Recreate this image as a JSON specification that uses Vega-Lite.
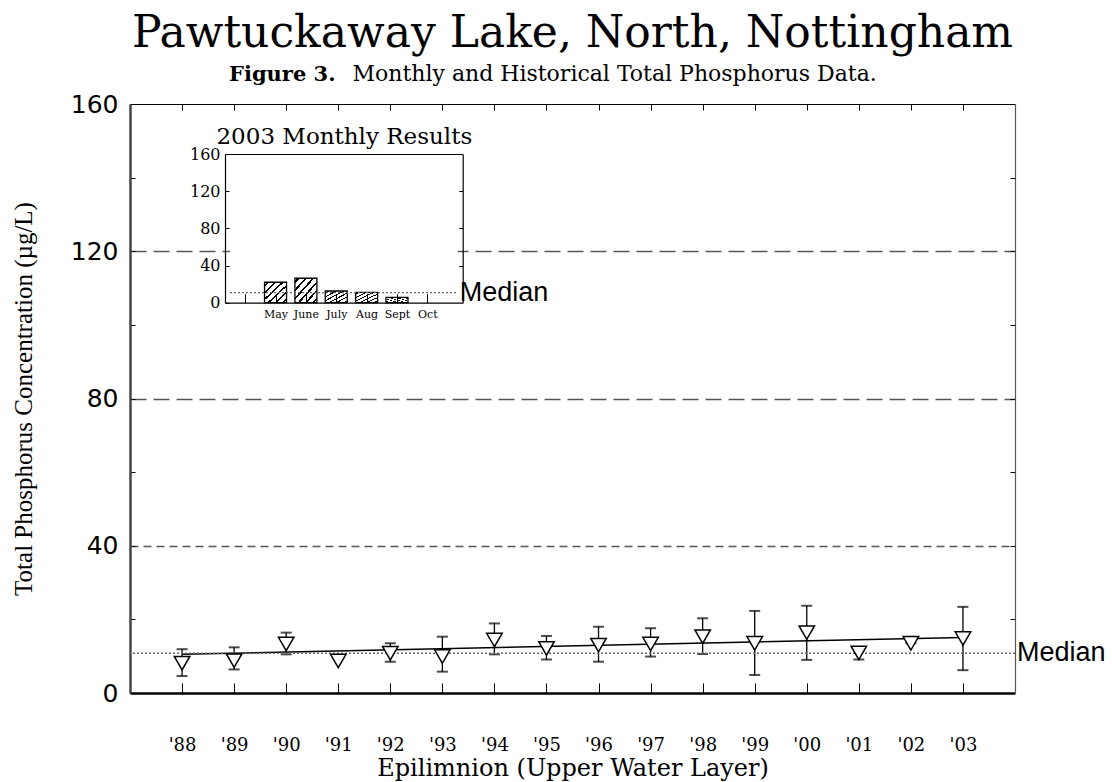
{
  "$schema": "https://vega.github.io/schema/vega-lite/v6.json",
  "width": 885,
  "height": 589,
  "autosize": {"type": "none"},
  "padding": {"left": 130, "top": 104, "right": 97, "bottom": 89},
  "background": "white",
  "config": {"view": {"stroke": null}, "font": "DejaVu Serif"},
  "title": {
    "text": "Pawtuckaway Lake, North, Nottingham",
    "anchor": "middle",
    "frame": "group",
    "font": "DejaVu Serif",
    "fontSize": 44,
    "fontWeight": "normal",
    "color": "black",
    "offset": 6
  },
  "datasets": {
    "annual": [
      {"year": 1988, "mean": 8.1, "lo": 4.6, "hi": 11.9},
      {"year": 1989, "mean": 8.8, "lo": 6.4, "hi": 12.4},
      {"year": 1990, "mean": 13.3, "lo": 10.5, "hi": 16.4},
      {"year": 1991, "mean": 8.7, "lo": null, "hi": null},
      {"year": 1992, "mean": 10.8, "lo": 8.5, "hi": 13.5},
      {"year": 1993, "mean": 9.9, "lo": 5.8, "hi": 15.3},
      {"year": 1994, "mean": 14.4, "lo": 10.5, "hi": 18.9},
      {"year": 1995, "mean": 12.1, "lo": 9.1, "hi": 15.5},
      {"year": 1996, "mean": 13.0, "lo": 8.5, "hi": 18.0},
      {"year": 1997, "mean": 13.3, "lo": 9.9, "hi": 17.6},
      {"year": 1998, "mean": 15.3, "lo": 10.6, "hi": 20.3},
      {"year": 1999, "mean": 13.5, "lo": 4.9, "hi": 22.3},
      {"year": 2000, "mean": 16.4, "lo": 9.0, "hi": 23.7},
      {"year": 2001, "mean": 10.9, "lo": 9.1, "hi": 12.4},
      {"year": 2002, "mean": 13.5, "lo": 13.5, "hi": 14.8},
      {"year": 2003, "mean": 14.8, "lo": 6.2, "hi": 23.4}
    ],
    "trend": [
      {"year": 1988, "trend": 10.5},
      {"year": 2003, "trend": 15.1}
    ],
    "median": [
      {"label": "Median", "value": 10.8}
    ],
    "monthly": [
      {"month": 5, "name": "May", "tp": 22},
      {"month": 6, "name": "June", "tp": 26.3},
      {"month": 7, "name": "July", "tp": 12.6},
      {"month": 8, "name": "Aug", "tp": 11.2},
      {"month": 9, "name": "Sept", "tp": 5.8},
      {"month": 10, "name": "Oct", "tp": null}
    ]
  },
  "layer": [
    {
      "layer": [
        {
          "data": {"name": "annual"},
          "mark": {"type": "errorbar", "ticks": {"size": 11, "thickness": 2, "color": "black"}, "rule": {"strokeWidth": 1.3, "color": "black"}},
          "encoding": {
            "x": {"field": "year", "type": "quantitative", "scale": {"domain": [1987, 2004]}, "axis": null},
            "y": {"field": "lo", "type": "quantitative", "scale": {"domain": [0, 160]}, "axis": null},
            "y2": {"field": "hi"}
          }
        },
        {
          "data": {"name": "trend"},
          "mark": {"type": "line", "color": "black", "strokeWidth": 1.5},
          "encoding": {
            "x": {"field": "year", "type": "quantitative", "scale": {"domain": [1987, 2004]},
              "axis": {"orient": "top", "values": [1988, 1989, 1990, 1991, 1992, 1993, 1994, 1995, 1996, 1997, 1998, 1999, 2000, 2001, 2002, 2003], "labels": false, "tickSize": -6, "tickColor": "black", "domainColor": "black", "domainWidth": 1.2, "grid": false,
                "title": "Figure 3.", "titleFont": "DejaVu Serif", "titleFontSize": 21, "titleFontWeight": "bold", "titleColor": "black",
                "titleAlign": "right", "titleBaseline": "alphabetic", "titleX": 205, "titleY": -24}},
            "y": {"field": "trend", "type": "quantitative", "scale": {"domain": [0, 160]},
              "axis": {"orient": "right", "values": [20, 40, 60, 80, 100, 120, 140], "labels": false, "tickSize": -5, "tickColor": "black", "domainColor": "#555", "domainWidth": 1.2, "title": null, "grid": false}}
          }
        },
        {
          "data": {"name": "median"},
          "mark": {"type": "rule", "color": "#666", "strokeWidth": 1.5, "strokeDash": [2, 2]},
          "encoding": {
            "y": {"field": "value", "type": "quantitative", "scale": {"domain": [0, 160]}, "axis": null}
          }
        },
        {
          "data": {"name": "annual"},
          "mark": {"type": "point", "shape": "triangle-down", "size": 240, "filled": true, "fill": "white", "stroke": "black", "strokeWidth": 1.5, "opacity": 1},
          "encoding": {
            "x": {"field": "year", "type": "quantitative", "scale": {"domain": [1987, 2004]},
              "axis": {"orient": "bottom", "values": [1988, 1989, 1990, 1991, 1992, 1993, 1994, 1995, 1996, 1997, 1998, 1999, 2000, 2001, 2002, 2003],
                "labelExpr": "\"'\" + substring(toString(datum.value), 2)",
                "tickSize": -10, "tickColor": "black", "domainColor": "black", "domainWidth": 2.5,
                "labelFont": "DejaVu Serif", "labelFontSize": 18, "labelColor": "black", "labelPadding": 53,
                "title": "Epilimnion (Upper Water Layer)", "titleFont": "DejaVu Serif", "titleFontSize": 24, "titleFontWeight": "normal", "titleColor": "black", "titlePadding": 2, "grid": false}},
            "y": {"field": "mean", "type": "quantitative", "scale": {"domain": [0, 160]},
              "axis": {"orient": "left", "values": [0, 20, 40, 60, 80, 100, 120, 140, 160],
                "labelExpr": "datum.value % 40 == 0 ? datum.label : ''",
                "tickSize": -5, "tickColor": "black", "domainColor": "#444", "domainWidth": 2.5,
                "labelFont": "DejaVu Sans", "labelFontSize": 25, "labelColor": "black", "labelPadding": 17,
                "grid": true, "gridColor": "#444", "gridWidth": 1.3,
                "gridDash": {"condition": {"test": "datum.value == 40", "value": [8, 5]}, "value": [16, 7]},
                "gridOpacity": {"condition": {"test": "datum.value == 40 || datum.value == 80 || datum.value == 120", "value": 0.9}, "value": 0},
                "title": "Total Phosphorus Concentration (µg/L)", "titleFont": "Liberation Serif", "titleFontSize": 25, "titleFontWeight": "normal", "titleColor": "black", "titlePadding": 34}}
          }
        },
        {
          "data": {"name": "median"},
          "mark": {"type": "text", "align": "left", "baseline": "middle", "dx": 2, "font": "Liberation Sans", "fontSize": 27, "color": "black"},
          "encoding": {
            "x": {"datum": 2004, "type": "quantitative", "scale": {"domain": [1987, 2004]},
              "axis": {"orient": "top", "domain": false, "ticks": false, "labels": false, "grid": false,
                "title": "Monthly and Historical Total Phosphorus Data.", "titleFont": "DejaVu Serif", "titleFontSize": 22, "titleFontWeight": "normal", "titleColor": "black",
                "titleAlign": "left", "titleBaseline": "alphabetic", "titleX": 222, "titleY": -24}},
            "y": {"field": "value", "type": "quantitative", "scale": {"domain": [0, 160]}, "axis": null},
            "text": {"field": "label"}
          }
        }
      ],
      "resolve": {"axis": {"x": "independent", "y": "independent"}}
    },
    {
      "layer": [
        {
          "data": {"values": [{}]},
          "mark": {"type": "rect", "fill": "white"},
          "encoding": {
            "x": {"datum": 3.5, "type": "quantitative", "scale": {"domain": [3.5, 11], "range": [95, 332.7]},
              "axis": {"orient": "bottom", "offset": -390.3, "values": [4, 5, 6, 7, 8, 9, 10],
                "labelExpr": "['','','','','','May','June','July','Aug','Sept','Oct'][datum.value]",
                "tickSize": -9, "tickColor": "black", "domainColor": "black", "domainWidth": 1.2,
                "labelFont": "DejaVu Serif", "labelFontSize": 11, "labelColor": "black", "labelPadding": 15,
                "title": null, "grid": false, "zindex": 2}},
            "x2": {"datum": 11},
            "y": {"datum": 0, "type": "quantitative", "scale": {"domain": [0, 160], "range": [198.7, 50]},
              "axis": {"orient": "left", "offset": -95, "values": [0, 40, 80, 120, 160],
                "tickSize": -4, "tickColor": "black", "domainColor": "black", "domainWidth": 1.2,
                "labelFont": "DejaVu Serif", "labelFontSize": 16, "labelColor": "black", "labelPadding": 9,
                "title": null, "grid": false, "zindex": 2}},
            "y2": {"datum": 160}
          }
        },
        {
          "data": {"name": "monthly"},
          "mark": {"type": "bar", "width": 22, "stroke": "black", "strokeWidth": 1.3,
            "fill": {"gradient": "linear", "x1": 0, "y1": 0, "x2": 1, "y2": 1, "stops": [
              {"offset": 0, "color": "white"}, {"offset": 0.058, "color": "white"},
              {"offset": 0.058, "color": "black"}, {"offset": 0.108, "color": "black"},
              {"offset": 0.108, "color": "white"}, {"offset": 0.225, "color": "white"},
              {"offset": 0.225, "color": "black"}, {"offset": 0.275, "color": "black"},
              {"offset": 0.275, "color": "white"}, {"offset": 0.392, "color": "white"},
              {"offset": 0.392, "color": "black"}, {"offset": 0.442, "color": "black"},
              {"offset": 0.442, "color": "white"}, {"offset": 0.558, "color": "white"},
              {"offset": 0.558, "color": "black"}, {"offset": 0.608, "color": "black"},
              {"offset": 0.608, "color": "white"}, {"offset": 0.725, "color": "white"},
              {"offset": 0.725, "color": "black"}, {"offset": 0.775, "color": "black"},
              {"offset": 0.775, "color": "white"}, {"offset": 0.892, "color": "white"},
              {"offset": 0.892, "color": "black"}, {"offset": 0.942, "color": "black"},
              {"offset": 0.942, "color": "white"}, {"offset": 1, "color": "white"}
            ]}},
          "encoding": {
            "x": {"field": "month", "type": "quantitative", "scale": {"domain": [3.5, 11], "range": [95, 332.7]},
              "axis": {"orient": "top", "offset": -50, "labels": false, "ticks": false, "domainColor": "black", "domainWidth": 1.2,
                "title": "2003 Monthly Results", "titleFont": "DejaVu Serif", "titleFontSize": 23, "titleFontWeight": "normal", "titleColor": "black", "titlePadding": 6, "grid": false, "zindex": 2}},
            "y": {"field": "tp", "type": "quantitative", "scale": {"domain": [0, 160], "range": [198.7, 50]},
              "axis": {"orient": "right", "offset": -552.3, "values": [40, 80, 120], "labels": false,
                "tickSize": -4, "tickColor": "black", "domainColor": "black", "domainWidth": 1.2, "title": null, "grid": false, "zindex": 2}}
          }
        },
        {
          "data": {"name": "median"},
          "mark": {"type": "rule", "color": "#666", "strokeWidth": 1.3, "strokeDash": [2, 2]},
          "encoding": {
            "x": {"datum": 3.5, "type": "quantitative", "scale": {"domain": [3.5, 11], "range": [95, 332.7]}, "axis": null},
            "x2": {"datum": 11},
            "y": {"field": "value", "type": "quantitative", "scale": {"domain": [0, 160], "range": [198.7, 50]}, "axis": null}
          }
        },
        {
          "data": {"name": "median"},
          "mark": {"type": "text", "align": "left", "baseline": "middle", "dx": 2, "font": "Liberation Sans", "fontSize": 27, "color": "black"},
          "encoding": {
            "x": {"datum": 11, "type": "quantitative", "scale": {"domain": [3.5, 11], "range": [95, 332.7]}, "axis": null},
            "y": {"field": "value", "type": "quantitative", "scale": {"domain": [0, 160], "range": [198.7, 50]}, "axis": null},
            "text": {"field": "label"}
          }
        }
      ],
      "resolve": {"axis": {"x": "independent", "y": "independent"}}
    }
  ],
  "resolve": {"scale": {"x": "independent", "y": "independent"}}
}
